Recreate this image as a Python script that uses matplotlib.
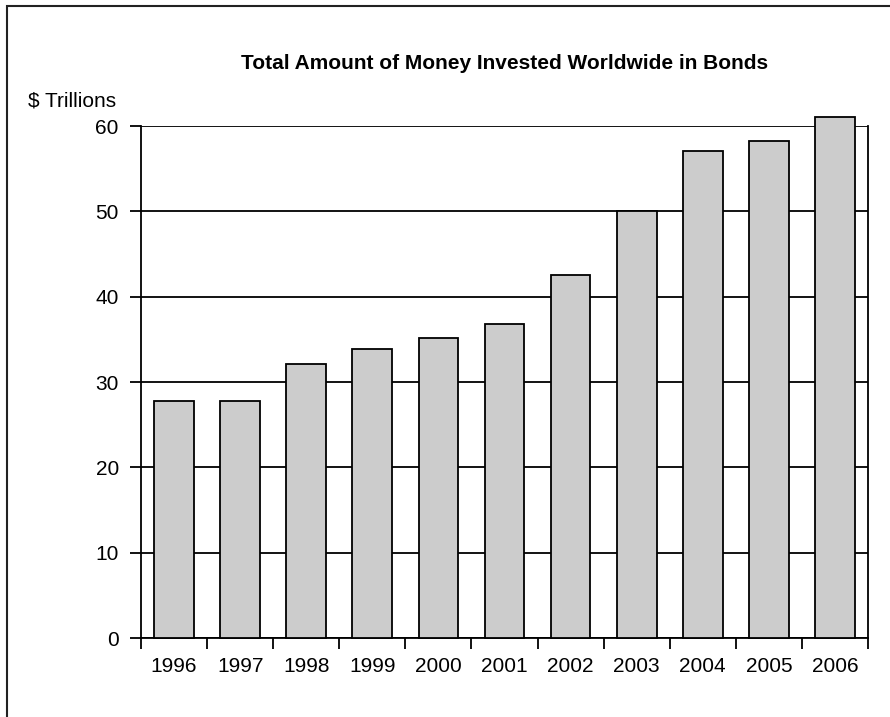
import matplotlib.pyplot as plt
import numpy as np
from matplotlib.patches import Rectangle
from matplotlib import font_manager

# Data
years = ['1996', '1997', '1998', '1999', '2000', '2001',
         '2002', '2003', '2004', '2005', '2006']
trillions = [27.8, 27.8, 32.1, 33.9, 35.2, 36.8, 42.5, 50.0, 57.1, 58.3, 61.0]

names = {f.name for f in font_manager.fontManager.ttflist}
fam = ['Liberation Sans Narrow', 'DejaVu Sans'] if 'Liberation Sans Narrow' in names else ['Liberation Sans', 'DejaVu Sans']
plt.rcParams['font.family'] = fam

fig = plt.figure(figsize=(8.9, 7.17), dpi=100)
ax = fig.add_axes([141 / 890, 1 - 638 / 717, 727 / 890, 512 / 717])

x = np.arange(len(years))
ax.bar(x, trillions, width=0.6, color='#cccccc', edgecolor='black',
       linewidth=1.3, clip_on=False, zorder=3)

ax.set_xlim(-0.5, len(years) - 0.5)
ax.set_ylim(0, 60)
ax.set_yticks(range(0, 61, 10))
ax.grid(axis='y', color='black', linewidth=1.3)
ax.set_axisbelow(True)

# labels at centres, tick marks at boundaries
ax.set_xticks(x)
ax.set_xticklabels(years, fontsize=15)
ax.set_xticks(np.arange(-0.5, len(years), 1), minor=True)
ax.tick_params(axis='x', which='major', length=0, pad=14)
ax.tick_params(axis='x', which='minor', length=8, width=1.3, direction='out')
ax.tick_params(axis='y', length=8, width=1.3, direction='out', labelsize=15, pad=8)

ax.spines['top'].set_visible(False)
for s in ['left', 'right', 'bottom']:
    ax.spines[s].set_linewidth(1.3)

ax.set_title('Total Amount of Money Invested Worldwide in Bonds',
             fontsize=15, fontweight='bold', pad=41)
fig.text(28 / 890, 1 - 101 / 717, '$ Trillions', fontsize=15, va='center', ha='left')

# outer frame
fig.add_artist(Rectangle((7 / 890, -0.1), 2, 1.1 - 6 / 717, transform=fig.transFigure,
                         fill=False, edgecolor='#222222', linewidth=1.5))

fig.savefig('out.png', dpi=100)
